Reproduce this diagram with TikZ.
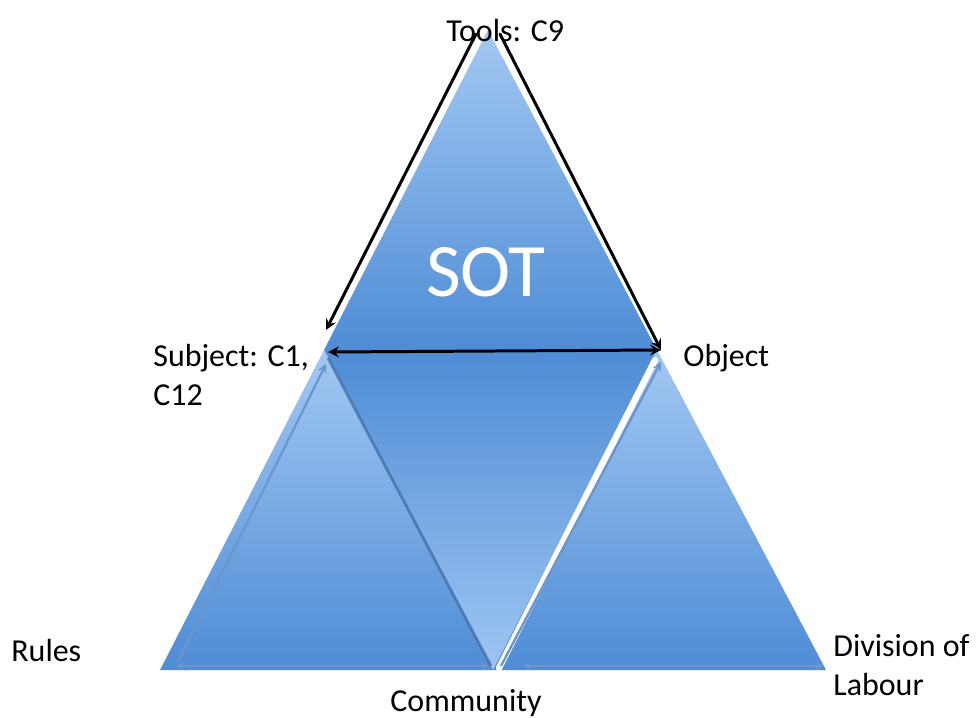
\documentclass[tikz,border=0pt]{standalone}
\usepackage{fontspec}
\setmainfont{Carlito}
\usepackage{xcolor}
\usetikzlibrary{arrows, calc}

\definecolor{vaalea}{RGB}{163,200,243}
\definecolor{tumma}{RGB}{78,140,213}
\definecolor{reuna}{RGB}{104,150,205}
\definecolor{varjo}{RGB}{58,104,160}

\begin{document}
\begin{tikzpicture}[x=0.02cm, y=-0.02cm]
    % Tyylit
    \tikzstyle{nimi} = [font=\fontsize{18.2}{22}\selectfont, text=black, align=left, inner sep=0pt]
    \tikzstyle{ylaosa} = [top color=vaalea, bottom color=tumma, draw=none]
    \tikzstyle{keskiosa} = [top color=tumma, bottom color=vaalea!105, draw=none]
    \tikzstyle{tyokalu} = [black, line width=1.7pt, ->, >=stealth, line cap=round]
    \tikzstyle{tausta} = [white, line width=3.6pt, line cap=round]
    \tikzstyle{sininen} = [reuna, line width=1.3pt, ->, >=stealth]

    \useasboundingbox (0,0) rectangle (977,717);

    % Kulmat
    \coordinate (T) at (488,30);
    \coordinate (R) at (160,670);
    \coordinate (D) at (826,670);
    \coordinate (S) at ($(T)!0.5!(R)$);
    \coordinate (O) at ($(T)!0.5!(D)$);
    \coordinate (C) at ($(R)!0.5!(D)$);

    % Kolmiot
    \shade[ylaosa] (T) -- (S) -- (O) -- cycle;
    \shade[keskiosa] (S) -- (O) -- (C) -- cycle;
    \shade[ylaosa] (S) -- (R) -- (C) -- cycle;
    \shade[ylaosa] (O) -- (C) -- (D) -- cycle;

    % Nuolet
    \draw[varjo, line width=1.6pt, opacity=0.7] ([shift={(4,8)}]S) -- ([shift={(-2,-4)}]C);
    \draw[tausta] ([shift={(6,-2)}]C) -- ([shift={(-2,10)}]O);
    \draw[sininen] ([shift={(8,-4)}]C) -- ([shift={(4,12)}]O);
    \draw[sininen] ([shift={(18,-8)}]R) -- ([shift={(2,14)}]S);
    \draw[sininen, <->] ([shift={(16,-4)}]R) -- ([shift={(-4,-4)}]C);
    \draw[sininen, <->] ([shift={(30,-4)}]C) -- ([shift={(-2,-4)}]D);
    \draw[tausta] ([shift={(-12,4)}]T) -- ([shift={(0,-20)}]S);
    \draw[tausta] ([shift={(12,4)}]T) -- ([shift={(4,-4)}]O);
    \draw[tyokalu] ([shift={(-12,4)}]T) -- ([shift={(2,-20)}]S);
    \draw[tyokalu] ([shift={(12,4)}]T) -- ([shift={(4,0)}]O);
    \draw[tyokalu, <->] ([shift={(4,2)}]S) -- ([shift={(4,0)}]O);

    % Tekstit
    \node[nimi, anchor=west] (tools) at (446,31) {Tools: C9};
    \node[nimi, anchor=north west] (subject) at (153,344) {Subject: C1,\\C12};
    \node[nimi, anchor=west] (object) at (683,358) {Object};
    \node[nimi, anchor=west] (rules) at (11,651) {Rules};
    \node[nimi, anchor=center] (community) at (466,703) {Community};
    \node[nimi, anchor=north west] (division) at (833,634) {Division of\\Labour};
    \node[font=\fontsize{43}{43}\selectfont, text=white, inner sep=0pt] (sot) at (486,272) {SOT};
\end{tikzpicture}
\end{document}
